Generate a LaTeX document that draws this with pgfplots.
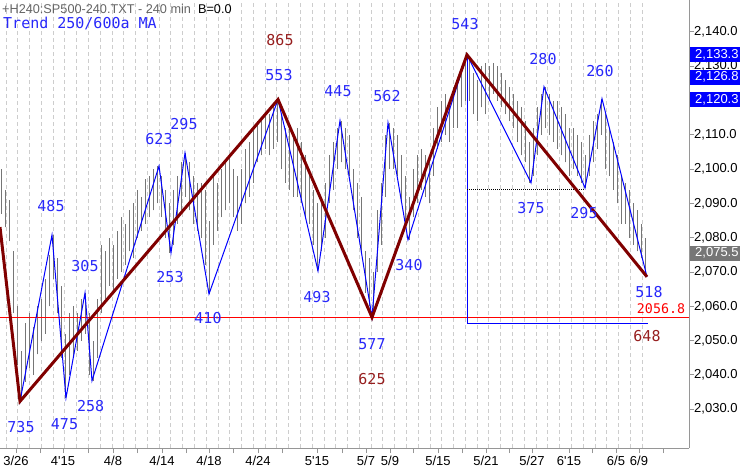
\documentclass[border=0pt]{standalone}
\usepackage{pgfplots}
\pgfplotsset{compat=1.18}
\usepackage{fontspec}
\setmainfont{Liberation Sans}[Ligatures=TeXOff]
\newfontfamily\monof{DejaVu Sans Mono}
\definecolor{lblblue}{RGB}{40,40,250}
\definecolor{dred}{RGB}{128,0,0}
\definecolor{lbldred}{RGB}{150,30,30}
\definecolor{bargray}{RGB}{118,118,118}
\definecolor{gridgray}{RGB}{205,205,205}
\definecolor{axgray}{RGB}{150,150,150}
\definecolor{titlegray}{RGB}{100,100,100}
\newcommand\tickf{\fontsize{13bp}{15bp}\selectfont}
\newcommand\lblf{\fontsize{15bp}{17bp}\monof}
\begin{document}
\begin{tikzpicture}
\begin{axis}[
  at={(0,0)}, anchor=south west,
  scale only axis, width=689bp, height=448bp,
  xmin=0, xmax=689, ymin=2018.7, ymax=2149.3,
  clip=false,
  axis x line*=bottom, axis y line*=right,
  axis line style={draw=axgray, line width=1bp, -},
  tick style={draw=axgray, line width=1bp},
  major tick length=5bp, tick align=outside,
  minor tick length=0pt,
  xtick={16,40,63,88,113,137,162,186,209,233,258,282,317,342,366,390,413,438,462,486,509,532,569,592,616,639,663},
  xticklabels={3/26,,4'15,,4/8,,4/14,,4/18,,4/24,,5'15,,5/7,5/9,,5/15,,5/21,,5/27,6'15,,6/5,6/9,},
  minor xtick={6,17.78,...,643},
  xminorgrids=true,
  minor grid style={draw=gridgray, line width=1bp, dash pattern=on 4bp off 3bp},
  ytick={2030,2040,...,2140},
  scaled y ticks=false,
  /pgf/number format/.cd, fixed, fixed zerofill, precision=1, 1000 sep={,}, assume math mode=true,
  /pgfplots/.cd,
  ticklabel style={font=\tickf, text=black},
  yticklabel style={anchor=west, inner xsep=0pt},
  xticklabel style={anchor=north, inner ysep=0pt, yshift=-3bp},
]
% OHLC bar ranges
\addplot[forget plot, only marks, mark=*, mark size=0pt, mark options={draw=none, fill=none},
  error bars/.cd, y dir=plus, y explicit, error mark=none,
  error bar style={draw=bargray, line width=1bp, solid}]
  table[x=x, y=lo, y error expr=\thisrow{hi}-\thisrow{lo}] {
x lo hi
1.5 2087 2100
5.5 2083 2094
9.5 2079 2091
13.5 2058 2076
17.5 2043 2060
21.5 2032.3 2047
25.5 2038 2055
29.5 2042 2058
33.5 2040 2054
37.5 2046 2060
41.5 2050 2062
45.5 2052 2068
49.5 2060 2075
53.5 2068 2080.8
57.5 2058 2074
61.5 2045 2066
65.5 2033.3 2052
69.5 2040 2058
73.5 2045 2060
77.5 2047 2058
81.5 2050 2062
85.5 2052 2063.9
89.5 2040 2058
93.5 2038.3 2050
97.5 2045 2062
101.5 2058 2078
105.5 2062 2076
109.5 2066 2080
113.5 2064 2078
117.5 2068 2082
121.5 2070 2086
125.5 2072 2084
129.5 2076 2088
133.5 2074 2090
137.5 2080 2094
141.5 2082 2092
145.5 2084 2097
149.5 2086 2098
153.5 2088 2100
157.5 2090 2100.9
161.5 2086 2098
165.5 2080 2094
169.5 2075.6 2090
173.5 2078 2094
177.5 2084 2098
181.5 2088 2102
185.5 2092 2104.7
189.5 2088 2102
193.5 2084 2098
197.5 2082 2096
201.5 2080 2096
205.5 2072 2094
209.5 2063.6 2085
213.5 2078 2098
217.5 2082 2096
221.5 2086 2100
225.5 2088 2102
229.5 2090 2104
233.5 2086 2100
237.5 2082 2098
241.5 2084 2100
245.5 2090 2106
249.5 2092 2108
253.5 2096 2112
257.5 2102 2114
261.5 2104 2114
265.5 2106 2116
269.5 2104 2116
273.5 2106 2118
277.5 2108 2120.3
281.5 2100 2116
285.5 2096 2112
289.5 2094 2112
293.5 2092 2110
297.5 2092 2112
301.5 2090 2108
305.5 2086 2104
309.5 2084 2100
313.5 2078 2094
317.5 2070.3 2090
321.5 2076 2092
325.5 2080 2096
329.5 2090 2104
333.5 2094 2108
337.5 2100 2112
341.5 2102 2114.1
345.5 2100 2112
349.5 2098 2110
353.5 2088 2100
357.5 2080 2096
361.5 2076 2092
365.5 2064 2076
369.5 2060 2074
373.5 2056.8 2070
377.5 2070 2088
381.5 2078 2096
385.5 2092 2110
389.5 2100 2113.5
393.5 2100 2112
397.5 2098 2110
401.5 2090 2104
405.5 2084 2098
409.5 2079.4 2092
413.5 2086 2100
417.5 2090 2104
421.5 2094 2106
425.5 2092 2104
429.5 2090 2102
433.5 2098 2112
437.5 2106 2118
441.5 2108 2120
445.5 2110 2122
449.5 2108 2120
453.5 2112 2124
457.5 2112 2126
461.5 2118 2130
465.5 2120 2133.3
469.5 2120 2132
473.5 2116 2128
477.5 2114 2126
481.5 2118 2130
485.5 2116 2131
489.5 2120 2130
493.5 2122 2131
497.5 2120 2130
501.5 2118 2128
505.5 2116 2126
509.5 2114 2124
513.5 2112 2122
517.5 2108 2120
521.5 2104 2118
525.5 2102 2114
529.5 2096 2108
533.5 2098 2112
537.5 2104 2118
541.5 2110 2122
545.5 2112 2124
549.5 2110 2122
553.5 2108 2120
557.5 2106 2120
561.5 2104 2118
565.5 2102 2116
569.5 2098 2112
573.5 2100 2112
577.5 2098 2110
581.5 2096 2108
585.5 2094.5 2104
589.5 2098 2110
593.5 2102 2114
597.5 2106 2116
601.5 2110 2120.5
605.5 2100 2116
609.5 2098 2112
613.5 2094 2108
617.5 2090 2104
621.5 2084 2098
625.5 2084 2096
629.5 2080 2094
633.5 2078 2090
637.5 2076 2088
641.5 2074 2084
645.5 2068.6 2080
};
% red support line
\addplot[red, line width=1bp] coordinates {(0,2056.8) (689,2056.8)};
% blue zigzag
\addplot[blue, line width=1bp] coordinates {
(0,2083.1) (20,2032.3) (52,2080.8) (66,2033.3) (85,2063.9) (92,2038.3)
(159,2100.9) (171,2075.6) (185,2104.7) (209,2063.6) (278,2120.3) (318,2070.3)
(340,2114.1) (372,2056.8) (388,2113.5) (408,2079.4) (467,2133.3) (531,2096.0)
(544,2124.0) (585,2094.5) (602,2120.5) (647,2068.6)};
% blue projection lines
\addplot[blue, line width=1bp] coordinates {(467.5,2133.3) (467.5,2054.9) (648,2054.9)};
\addplot[black, line width=1bp, dash pattern=on 1bp off 1bp] coordinates {(467,2094.2) (585,2094.2)};
% dark red zigzag
\addplot[dred, line width=3bp] coordinates {
(0,2083.1) (20,2032.3) (278,2120.3) (372,2056.8) (467,2133.3) (647,2068.6)};
% titles
\node[anchor=base west, inner sep=0pt, font=\fontsize{12.7bp}{14bp}\selectfont, text=titlegray] at (axis cs:2,2145.5) {+H240:SP500-240.TXT - 240 min\ \ \textcolor{black}{B=0.0}};
\node[anchor=base west, inner sep=0pt, font=\lblf, text=lblblue] at (axis cs:3,2140.9) {Trend 250/600a MA};
% labels
\tikzset{bl/.style={inner sep=0pt, font=\lblf, text=lblblue}, rl/.style={inner sep=0pt, font=\lblf, text=lbldred}}
\node[bl] at (axis cs:51,2089.3) {485};
\node[bl] at (axis cs:21,2024.8) {735};
\node[bl] at (axis cs:64.5,2025.7) {475};
\node[bl] at (axis cs:90.7,2030.8) {258};
\node[bl] at (axis cs:85,2071.8) {305};
\node[bl] at (axis cs:159,2108.8) {623};
\node[bl] at (axis cs:170,2068.4) {253};
\node[bl] at (axis cs:184,2113.2) {295};
\node[bl] at (axis cs:208,2056.5) {410};
\node[bl] at (axis cs:279,2127.5) {553};
\node[bl] at (axis cs:317,2062.6) {493};
\node[bl] at (axis cs:338,2122.7) {445};
\node[bl] at (axis cs:387,2121.4) {562};
\node[bl] at (axis cs:372,2049) {577};
\node[bl] at (axis cs:409,2071.9) {340};
\node[bl] at (axis cs:465,2142.3) {543};
\node[bl] at (axis cs:531,2088.7) {375};
\node[bl] at (axis cs:543,2132.1) {280};
\node[bl] at (axis cs:584,2087.2) {295};
\node[bl] at (axis cs:600,2128.6) {260};
\node[bl] at (axis cs:649,2064.3) {518};
\node[rl] at (axis cs:280,2137.7) {865};
\node[rl] at (axis cs:372,2038.8) {625};
\node[rl] at (axis cs:647,2051.2) {648};
\node[inner sep=0pt, font=\fontsize{13.3bp}{15bp}\monof, text=red] at (axis cs:661,2059.2) {2056.8};
\coordinate (b1) at (axis cs:690,2133.3);
\coordinate (b2) at (axis cs:690,2126.8);
\coordinate (b3) at (axis cs:690,2120.3);
\coordinate (b4) at (axis cs:690,2075.5);
\end{axis}
\tikzset{pb/.style={anchor=west, font=\tickf, text=white, inner xsep=5bp, inner ysep=0pt, minimum height=15bp}}
\node[pb, fill=blue] at (b1) {2,133.3};
\node[pb, fill=blue] at (b2) {2,126.8};
\node[pb, fill=blue] at (b3) {2,120.3};
\node[pb, fill=bargray] at (b4) {2,075.5};
\pgfresetboundingbox
\path[use as bounding box] (0,-22bp) rectangle (740bp,448bp);
\end{tikzpicture}
\end{document}
